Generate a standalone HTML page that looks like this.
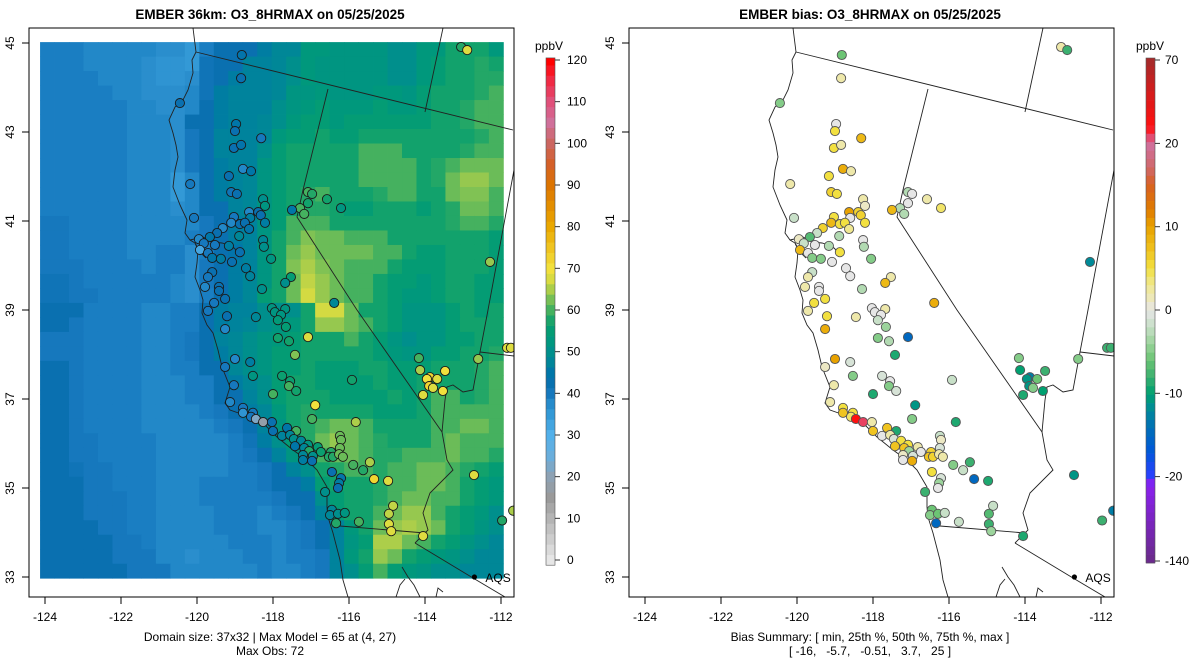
<!DOCTYPE html>
<html><head><meta charset="utf-8"><title>EMBER O3_8HRMAX</title>
<style>
html,body{margin:0;padding:0;background:#fff;}
svg{display:block;font-family:"Liberation Sans",Arial,sans-serif;}
text{fill:#000;}
</style></head>
<body>
<svg id="chart" width="1200" height="672" viewBox="0 0 1200 672" xmlns="http://www.w3.org/2000/svg">
<defs>
<clipPath id="clipL"><rect x="29" y="28" width="485" height="569"/></clipPath>
<clipPath id="clipR"><rect x="629" y="28" width="485" height="569"/></clipPath>
</defs>
<g id="left-panel">
  <text x="270" y="19" text-anchor="middle" font-size="13.5" font-weight="bold">EMBER 36km: O3_8HRMAX on 05/25/2025</text>
  <g id="gridL" clip-path="url(#clipL)"></g>
  <g id="mapL" clip-path="url(#clipL)" fill="none" stroke="#222" stroke-width="0.9"></g>
  <g id="sitesL" clip-path="url(#clipL)"></g>
  <g id="axesL"></g>
  <text x="270" y="641" text-anchor="middle" font-size="12">Domain size: 37x32 | Max Model = 65 at (4, 27)</text>
  <text x="270" y="655" text-anchor="middle" font-size="12">Max Obs: 72</text>
  <g id="cbarL"></g>
</g>
<g id="right-panel">
  <text x="870" y="19" text-anchor="middle" font-size="13.5" font-weight="bold">EMBER bias: O3_8HRMAX on 05/25/2025</text>
  <g id="mapR" clip-path="url(#clipR)" fill="none" stroke="#222" stroke-width="0.9"></g>
  <g id="sitesR" clip-path="url(#clipR)"></g>
  <g id="axesR"></g>
  <text x="870" y="641" text-anchor="middle" font-size="12">Bias Summary: [ min, 25th %, 50th %, 75th %, max ]</text>
  <text x="870" y="655" text-anchor="middle" font-size="12" xml:space="preserve">[ -16,   -5.7,   -0.51,   3.7,   25 ]</text>
  <g id="cbarR"></g>
</g>
</svg>
<script>
// ---------- data ----------
const lonTicks = [-124,-122,-120,-118,-116,-114,-112];
const latTicks = [33,35,37,39,41,43,45];
const cbarTicksL = [0,10,20,30,40,50,60,70,80,90,100,110,120];
const cbarTicksR = [-140,-20,-10,0,10,20,70];
const gridLon0 = -124.13, gridDLon = 0.381, gridLat0 = 45.02, gridDLat = 0.3256;
const modelRows = [
[39,39,39,38,38,38,38,38,37,37,35,39,42,42,42,46,48,48,53,53,52,52,52,52,50,50,53,53,57,57,57,53],
[39,39,39,38,38,38,38,37,36,36,35,41,42,42,47,47,48,50,53,52,52,52,52,52,50,50,53,55,57,57,58,57],
[39,39,39,39,38,38,38,37,36,36,37,41,42,46,47,47,48,50,53,52,52,52,52,52,50,50,53,55,57,57,58,58],
[39,39,39,39,39,38,38,37,37,37,38,41,46,47,47,47,48,52,52,53,52,52,52,53,53,52,55,57,57,57,58,60],
[39,39,39,39,39,39,38,38,37,37,38,42,46,47,47,47,50,52,53,55,53,53,53,55,53,53,55,57,57,58,60,60],
[39,39,39,39,39,39,38,38,38,37,42,42,46,47,47,48,50,53,55,55,53,55,55,55,55,55,55,57,57,58,60,60],
[39,39,39,39,39,39,38,38,38,37,40,42,47,47,47,48,53,55,55,57,55,55,57,57,57,57,57,57,57,57,58,60],
[39,39,39,39,39,39,38,38,38,37,40,42,47,47,47,50,55,57,57,57,57,57,60,60,60,57,57,57,57,58,60,60],
[39,39,39,39,39,39,38,38,38,37,40,42,46,47,47,52,55,57,57,57,57,57,60,60,60,60,57,58,60,62,62,62],
[39,39,39,39,39,39,38,38,38,35,38,42,46,47,48,52,55,57,57,57,57,57,60,60,60,60,57,58,62,64,64,62],
[39,39,39,39,39,39,38,38,38,35,38,42,46,47,48,52,55,57,58,60,57,57,57,58,60,60,57,57,62,63,63,60],
[39,39,39,39,39,39,38,38,38,37,38,42,42,47,48,52,55,57,58,58,57,55,55,57,57,57,55,57,58,62,62,60],
[40,40,39,39,39,39,38,38,38,38,38,40,42,46,47,52,55,60,60,60,57,57,57,57,57,57,57,57,58,60,60,58],
[40,40,39,39,39,39,38,38,38,38,39,40,42,46,47,52,57,60,63,62,62,60,60,60,57,57,57,57,57,57,57,55],
[40,40,39,39,39,39,38,38,39,39,37,39,42,44,47,52,57,62,64,62,62,62,62,60,60,57,55,55,57,57,57,55],
[40,40,40,39,39,39,39,38,39,39,37,40,42,46,47,52,57,63,65,63,62,60,60,60,57,55,55,55,57,57,57,55],
[41,41,40,39,39,39,39,39,39,38,37,40,42,46,48,52,57,62,66,64,62,60,60,57,55,55,53,55,57,57,55,55],
[41,41,40,40,39,39,39,39,39,38,37,39,42,46,48,55,57,62,67,64,62,60,60,57,55,53,53,55,57,57,55,55],
[42,42,42,39,39,39,39,38,38,39,39,42,46,47,47,50,50,50,57,67,67,62,57,57,55,52,52,52,55,57,55,57],
[42,42,40,39,39,39,39,38,38,39,39,42,46,47,48,50,52,53,57,64,64,62,60,57,55,52,52,52,55,57,57,57],
[40,40,40,39,39,39,39,38,38,39,40,42,47,48,50,52,53,55,57,57,57,60,57,55,52,50,52,52,55,55,57,57],
[40,40,40,39,39,39,39,38,38,39,40,42,46,48,50,52,55,55,57,57,57,57,57,55,53,52,52,55,55,57,57,58],
[42,42,40,39,39,39,39,38,38,39,39,42,42,48,50,52,55,55,57,55,55,55,57,57,55,55,55,57,57,57,58,60],
[42,42,40,39,39,39,39,38,38,38,39,39,42,46,48,50,55,57,57,55,55,55,55,57,55,55,57,57,57,57,58,60],
[42,42,40,39,39,39,39,38,38,38,39,39,42,42,47,50,55,57,57,57,55,55,55,55,57,55,57,60,60,57,58,60],
[42,42,40,39,39,39,39,38,38,38,38,39,40,42,46,48,53,57,58,57,57,57,57,55,55,55,57,60,60,60,60,60],
[42,42,40,39,39,39,39,38,38,38,38,38,39,40,42,47,52,57,58,60,62,62,60,57,57,57,57,60,60,62,62,60],
[42,42,40,40,39,39,39,39,38,38,38,38,38,39,41,46,50,55,58,62,64,62,60,58,57,57,57,60,62,60,60,60],
[42,42,40,40,39,39,39,39,38,38,38,38,38,39,40,42,47,52,57,60,62,62,60,58,58,60,60,60,62,60,60,58],
[42,42,41,40,40,39,39,39,38,38,38,38,38,39,39,40,42,47,50,57,58,60,60,58,60,60,62,62,60,58,57,55],
[42,42,42,40,40,39,39,39,38,38,38,39,39,39,39,40,42,42,46,55,57,57,57,58,60,60,62,62,60,57,55,53],
[42,42,42,40,40,40,39,39,38,38,38,39,39,39,39,39,40,42,42,50,55,57,57,58,60,62,62,60,60,57,55,53],
[42,42,42,40,40,40,39,39,38,38,38,38,39,39,39,38,39,40,42,47,55,57,57,60,62,64,64,60,57,55,53,50],
[42,42,42,42,40,40,39,39,38,38,38,38,39,39,39,38,38,39,40,42,47,53,57,62,64,65,64,62,57,55,52,50],
[42,42,42,42,42,40,40,39,38,38,38,38,38,39,39,39,38,39,40,42,47,52,55,65,65,62,60,57,55,52,50,48],
[42,42,42,42,42,40,40,40,38,38,37,38,38,38,39,39,38,39,39,40,47,53,57,64,62,57,55,53,52,50,48,48],
[42,42,42,42,42,42,40,40,40,38,38,38,38,38,38,39,38,38,39,40,47,50,55,60,55,53,52,50,50,48,48,48]
];
const siteLon = [-120.45,-118.82,-118.84,-118.97,-119.00,-118.31,-119.03,-118.84,-118.79,-118.58,-119.16,-120.18,-119.10,-118.95,-118.26,-118.21,-117.08,-116.97,-117.08,-117.29,-117.18,-117.50,-116.58,-116.21,-120.08,-118.63,-118.39,-118.32,-118.60,-119.03,-119.10,-118.87,-118.74,-118.21,-119.32,-118.63,-119.47,-119.66,-119.95,-118.89,-119.82,-119.53,-119.16,-119.92,-119.71,-118.26,-118.24,-118.87,-119.60,-119.37,-119.08,-118.05,-118.71,-118.60,-119.60,-119.71,-117.53,-117.68,-119.79,-119.42,-119.42,-118.29,-119.55,-119.26,-116.39,-119.71,-118.03,-117.95,-117.68,-117.79,-117.87,-119.21,-118.45,-119.26,-117.66,-117.87,-117.58,-117.08,-117.42,-119.00,-118.60,-118.53,-119.26,-117.76,-117.55,-117.58,-117.39,-115.92,-119.03,-118.00,-119.13,-116.89,-118.79,-118.53,-118.79,-118.58,-118.45,-118.26,-118.03,-116.97,-115.82,-118.00,-117.63,-117.39,-117.76,-117.55,-117.45,-117.26,-117.42,-117.08,-117.18,-117.05,-116.82,-116.74,-117.21,-116.95,-117.21,-116.97,-116.47,-116.53,-116.42,-116.24,-116.21,-116.24,-116.26,-116.16,-115.89,-115.63,-115.45,-115.34,-114.97,-116.45,-116.21,-116.26,-116.29,-116.63,-116.45,-116.50,-116.29,-116.11,-116.34,-115.74,-114.84,-114.95,-114.95,-114.89,-114.05,-114.16,-114.13,-113.87,-113.95,-113.68,-113.89,-113.79,-113.53,-114.05,-113.47,-113.05,-112.89,-112.29,-111.84,-111.74,-112.60,-112.71,-111.97,-111.68];
const siteLat = [43.65,44.73,44.21,43.18,43.02,42.86,42.64,42.71,42.17,42.12,42.01,41.83,41.65,41.61,41.49,41.34,41.65,41.61,41.40,41.29,41.16,41.25,41.49,41.29,41.07,41.20,41.20,41.13,41.07,41.09,40.96,40.93,40.96,40.96,40.84,40.82,40.73,40.64,40.59,40.66,40.50,40.46,40.44,40.35,40.28,40.57,40.42,40.30,40.17,40.15,40.08,40.15,39.94,39.76,39.85,39.74,39.74,39.61,39.52,39.52,39.43,39.47,39.16,39.25,39.16,38.98,39.04,38.95,39.02,38.89,38.77,38.86,38.84,38.57,38.62,38.37,38.30,38.39,37.99,37.90,37.83,37.52,37.72,37.52,37.40,37.29,37.18,37.43,37.31,37.11,36.93,36.86,36.80,36.69,36.69,36.60,36.55,36.48,36.48,36.55,36.48,36.28,36.35,36.28,36.17,36.19,36.10,36.06,35.94,35.97,35.90,35.83,35.92,35.81,35.74,35.72,35.63,35.61,35.81,35.70,35.70,36.17,36.08,35.90,35.76,35.70,35.52,35.40,35.58,35.20,35.16,35.36,35.22,35.11,35.00,34.91,34.51,34.39,34.42,34.44,34.21,34.24,34.60,34.42,34.19,34.03,33.92,37.92,37.65,37.49,37.45,37.45,37.29,37.25,37.18,37.09,37.63,44.91,44.84,40.08,38.15,38.15,37.90,35.29,34.27,34.49];
const siteObs = [42,44,42,45,42,40,42,44,38,45,42,40,41,42,50,52,60,58,57,60,60,45,57,52,40,38,42,42,46,40,38,42,42,46,38,44,42,45,38,48,40,40,46,32,40,48,50,42,45,46,42,52,46,47,42,40,55,50,38,42,42,50,40,42,48,40,52,52,52,52,54,42,48,38,55,57,57,68,63,38,46,52,40,56,56,60,57,57,40,60,38,70,40,40,36,40,22,18,42,60,65,42,45,60,47,48,50,48,45,52,48,58,55,56,48,50,46,42,58,58,58,62,62,62,62,62,60,58,65,72,68,42,44,46,42,50,48,48,50,52,58,60,66,66,68,68,68,60,65,72,70,68,72,68,70,68,70,58,68,64,68,68,64,68,58,65];
const siteBias = [-5,-6,2,0,5,8,5,2,9,2,5,2,6,5,2,1,-3,0,0,-3,-3,8,2,4,-2,10,6,6,0,5,8,5,5,5,6,3,-2,-7,1,-3,-2,0,-3,8,0,0,-3,5,-5,-5,0,-5,0,0,-2,2,2,8,2,0,0,-3,5,5,9,2,0,0,2,0,-2,5,2,9,-4,-5,-3,-15,-9,10,-1,-5,1,-1,0,-5,-1,-2,2,-9,2,-11,5,5,7,4,30,25,2,-5,-9,7,7,-9,0,2,-1,5,7,5,7,-4,2,0,1,-1,0,9,6,7,6,-2,1,-1,2,2,-5,-2,-8,-15,-9,5,-1,-4,0,-8,-6,-5,-6,-2,-15,-2,-2,-7,-8,-4,-9,-5,-10,-13,-11,-6,-11,-5,-10,-9,-8,2,-8,-12,-8,-8,-5,-11,-8,-13];
const aqsLon = -112.7, aqsLat = 33.0;

// ---------- scales ----------
const NS = "http://www.w3.org/2000/svg";
function xScale(lon, off){ return off + 45 + (lon + 124) * 38; }
function yScale(lat){ return 577 - (lat - 33) * 44.5; }
function hex2rgb(h){ return [parseInt(h.slice(1,3),16),parseInt(h.slice(3,5),16),parseInt(h.slice(5,7),16)]; }
function interp(stops, v){
  if (v <= stops[0][0]) return stops[0][1];
  for (let i=1;i<stops.length;i++){
    if (v <= stops[i][0]){
      const a=stops[i-1], b=stops[i], t=(v-a[0])/(b[0]-a[0]);
      const ca=hex2rgb(a[1]), cb=hex2rgb(b[1]);
      return "rgb("+ca.map((c,k)=>Math.round(c+(cb[k]-c)*t)).join(",")+")";
    }
  }
  return stops[stops.length-1][1];
}
const stopsL = [[0,"#e6e6e6"],[10,"#b4b4b4"],[15,"#9a9a9a"],[20,"#8ea2b4"],[25,"#6aaedc"],[30,"#52b0ea"],[35,"#3399d6"],[37,"#2a8ecd"],[38,"#2288c8"],[39,"#1a7ec2"],[40,"#1678bd"],[42,"#0a70b0"],[45,"#0076a8"],[47,"#00839c"],[50,"#008f8c"],[53,"#00987c"],[55,"#049c74"],[57,"#12a26c"],[59,"#34ab62"],[61,"#56b65b"],[63,"#80c254"],[65,"#acce4a"],[67,"#d4da42"],[70,"#f2e03c"],[75,"#f0c420"],[80,"#eaa800"],[90,"#dc7400"],[95,"#d46028"],[100,"#cc6660"],[105,"#d0709a"],[110,"#e0507a"],[115,"#f02a44"],[120,"#ff0000"]];
const stopsR = [[-140,"#6a2a8a"],[-30,"#8a20f0"],[-20,"#2a40ff"],[-17,"#0058d8"],[-14,"#0070b4"],[-12,"#008a98"],[-10,"#00a070"],[-8,"#3cb070"],[-6,"#6cc474"],[-4,"#9cd49c"],[-2,"#c8e0c8"],[0,"#e6e6e6"],[1,"#ece8c4"],[3,"#f0e890"],[5,"#f2e040"],[7,"#f0c420"],[10,"#e8a200"],[12,"#e07c00"],[15,"#d86020"],[17,"#d06868"],[20,"#d070a0"],[25,"#e84060"],[30,"#ff1010"],[45,"#e01818"],[70,"#a52a2a"]];
function colL(v){ return interp(stopsL, v); }
function colR(v){ return interp(stopsR, v); }
function cbarYR(v){
  if (v > 20) return 144 - (v-20)/50*84;
  if (v < -20) return 477 + (-20-v)/120*84;
  return 310 - v*8.33;
}
function cbarYL(v){ return 560 - v*4.1667; }
function mk(tag, attrs, parent){ const e=document.createElementNS(NS,tag); for (const k in attrs) e.setAttribute(k, attrs[k]); parent.appendChild(e); return e; }

// ---------- model grid ----------
const gridL = document.getElementById("gridL");
modelRows.forEach((row, r) => {
  row.forEach((v, c) => {
    const x0 = xScale(gridLon0 + c*gridDLon, 0), x1 = xScale(gridLon0 + (c+1)*gridDLon, 0);
    const y0 = yScale(gridLat0 - r*gridDLat), y1 = yScale(gridLat0 - (r+1)*gridDLat);
    const cell = mk("rect", {x:x0.toFixed(2), y:y0.toFixed(2), width:(x1-x0+0.4).toFixed(2), height:(y1-y0+0.4).toFixed(2), fill:colL(v)}, gridL);
    
    
  });
});

// ---------- basemap (pixel paths, left panel frame) ----------
const basemap = [
 ["coastline","M193,28 L196,52 L192,60 L193,73 L188,90 L183,100 L175,107 L169,120 L173,133 L176,145 L178,157 L175,170 L173,187 L180,205 L187,220 L185,233 L190,240 L195,243 L198,250 L197,263 L195,277 L200,290 L203,300 L202,313 L207,325 L213,333 L218,350 L222,367 L230,387 L225,403 L230,410 L250,417 L263,423 L277,437 L293,450 L307,460 L317,470 L327,487 L327,507 L328,517 L333,533 L340,560 L343,580 L348,597"],
 ["sf-bay","M190,240 L203,237 L212,242 L222,243 L232,246 L236,250 M195,243 L200,252 L206,258"],
 ["or-border","M196,52 L513,130"],
 ["id-or-border","M443,28 L425,112"],
 ["ca-nv-border","M328,89 L303,190 L297,217 L357,310 L442,432"],
 ["nv-ut-border","M514,170 L488,310 L480,352"],
 ["ut-az-border","M480,352 L514,356"],
 ["colorado-river","M480,352 L473,390 L463,392 L453,385 L447,387 L445,400 L442,432 L447,460 L453,470 L430,493 L423,513 L428,530 L415,543"],
 ["ca-mexico-border","M340,526 L425,533"],
 ["az-mexico-border","M415,543 L473,578 L505,597"],
 ["gulf-coast","M402,567 L408,577 L414,585 L420,597 M396,597 L400,585 L405,579 M436,597 L438,588 L443,592"]
];
[["mapL",0],["mapR",600]].forEach(([id, off]) => {
  const g = document.getElementById(id);
  basemap.forEach(([nm, d]) => {
    const p = mk("path", {d:d, transform:"translate("+off+",0)"}, g);
    
    
  });
  const aq = mk("circle", {cx:xScale(aqsLon, off), cy:yScale(aqsLat), r:2.6, fill:"#000", stroke:"none"}, g);
  
  
  const at = mk("text", {x:xScale(aqsLon, off)+11, y:yScale(aqsLat)+5, "font-size":12, stroke:"none", fill:"#000"}, g);
  at.textContent = "AQS";
  
  
});

// ---------- sites ----------
const sitesL = document.getElementById("sitesL"), sitesR = document.getElementById("sitesR");
siteLon.forEach((lon, i) => {
  const c1 = mk("circle", {cx:xScale(lon,0).toFixed(1), cy:yScale(siteLat[i]).toFixed(1), r:4.6, fill:colL(siteObs[i]), stroke:"#1a1a1a", "stroke-width":0.9}, sitesL);
  
  
  const c2 = mk("circle", {cx:xScale(lon,600).toFixed(1), cy:yScale(siteLat[i]).toFixed(1), r:4.6, fill:colR(siteBias[i]), stroke:"#555", "stroke-width":0.9}, sitesR);
  
  
});

// ---------- axes ----------
[["axesL",0],["axesR",600]].forEach(([id, off]) => {
  const g = document.getElementById(id);
  const box = mk("rect", {x:29+off, y:28, width:485, height:569, fill:"none", stroke:"#000", "stroke-width":1}, g);
  
  
  lonTicks.forEach(t => {
    const x = xScale(t, off);
    const tk = mk("line", {x1:x, x2:x, y1:597, y2:604, stroke:"#000", "stroke-width":1}, g);
    
    
    const lb = mk("text", {x:x, y:621, "text-anchor":"middle", "font-size":12}, g);
    lb.textContent = String(t);
    
    
  });
  latTicks.forEach(t => {
    const y = yScale(t);
    const tk = mk("line", {x1:22+off, x2:29+off, y1:y, y2:y, stroke:"#000", "stroke-width":1}, g);
    
    
    const lb = mk("text", {x:14+off, y:y, "text-anchor":"middle", "font-size":12, transform:"rotate(-90 "+(14+off)+" "+y+")"}, g);
    lb.textContent = String(t);
    
    
  });
});

// ---------- colorbars ----------
(function(){
  const g = document.getElementById("cbarL");
  for (let v=-1.25; v<120.5; v+=2.5){
    const y0 = cbarYL(Math.min(v+2.5,120.5)), y1 = cbarYL(v);
    const r = mk("rect", {x:546, y:y0.toFixed(2), width:9, height:(y1-y0+0.3).toFixed(2), fill:colL(v+1.25)}, g);
    
    
  }
  mk("rect", {x:546, y:cbarYL(120.5), width:9, height:cbarYL(-1.25)-cbarYL(120.5), fill:"none", stroke:"#555", "stroke-width":0.6}, g);
  cbarTicksL.forEach(t => {
    const y = cbarYL(t);
    const tk = mk("line", {x1:555, x2:560, y1:y, y2:y, stroke:"#333"}, g);
    
    
    const lb = mk("text", {x:567, y:y+4, "font-size":12}, g);
    lb.textContent = String(t);
    
    
  });
  const u = mk("text", {x:549, y:50, "text-anchor":"middle", "font-size":12}, g);
  u.textContent = "ppbV";
  
  
})();
(function(){
  const g = document.getElementById("cbarR");
  const top = 58, bot = 563, n = 60;
  function inv(y){
    if (y < 144) return 20 + (144-y)/84*50;
    if (y > 477) return -20 - (y-477)/84*120;
    return (310-y)/8.33;
  }
  for (let i=0;i<n;i++){
    const y0 = top + (bot-top)*i/n, y1 = top + (bot-top)*(i+1)/n;
    const r = mk("rect", {x:1146, y:y0.toFixed(2), width:9, height:(y1-y0+0.3).toFixed(2), fill:colR(inv((y0+y1)/2))}, g);
    
    
  }
  mk("rect", {x:1146, y:top, width:9, height:bot-top, fill:"none", stroke:"#555", "stroke-width":0.6}, g);
  cbarTicksR.forEach(t => {
    const y = cbarYR(t);
    const tk = mk("line", {x1:1155, x2:1160, y1:y, y2:y, stroke:"#333"}, g);
    
    
    const lb = mk("text", {x:1165, y:y+4, "font-size":12}, g);
    lb.textContent = String(t);
    
    
  });
  const u = mk("text", {x:1150, y:50, "text-anchor":"middle", "font-size":12}, g);
  u.textContent = "ppbV";
  
  
})();
</script>
</body></html>
